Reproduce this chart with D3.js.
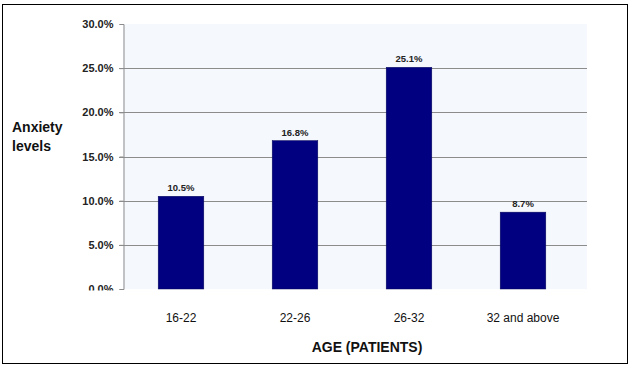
<!DOCTYPE html>
<html><head><meta charset="utf-8">
<script src="https://cdn.jsdelivr.net/npm/d3@7"></script>
<style>body{margin:0;background:#fff}svg{display:block}text{font-family:"Liberation Sans",Arial,sans-serif}</style>
</head><body>
<svg id="c" width="634" height="367"></svg>
<script>
const categories = ["16-22", "22-26", "26-32", "32 and above"];
const values = [10.5, 16.8, 25.1, 8.7];
const yTicks = [0, 5, 10, 15, 20, 25, 30];
const yTitle = ["Anxiety", "levels"];
const xTitle = "AGE (PATIENTS)";

const svg = d3.select("#c");
const m = {left: 123, right: 587, top: 24, bottom: 289};

svg.append("rect").attr("x", 2.5).attr("y", 4.5).attr("width", 625).attr("height", 359)
  .attr("fill", "#fff").attr("stroke", "#000").attr("stroke-width", 1);

const x = d3.scaleBand().domain(categories).range([124, 580]).paddingInner(0.6).paddingOuter(0.3);
const y = d3.scaleLinear().domain([0, 30]).range([m.bottom, m.top]);

svg.append("rect").attr("x", m.left).attr("y", m.top).attr("width", m.right - m.left)
  .attr("height", m.bottom - m.top).attr("fill", "#f5f8fd");

// gridlines
svg.append("g").selectAll("line").data(yTicks.filter(d => d > 0 && d < 30)).join("line")
  .attr("x1", m.left - 4).attr("x2", m.right)
  .attr("y1", d => Math.round(y(d)) + 0.5).attr("y2", d => Math.round(y(d)) + 0.5)
  .attr("stroke", "#8c8c8c").attr("stroke-width", 1);

// y axis
const yAxis = d3.axisLeft(y).tickValues(yTicks).tickFormat(d => d3.format(".1f")(d) + "%").tickSize(4).tickPadding(6);
const ga = svg.append("g").attr("transform", `translate(${m.left + 0.5},0)`).call(yAxis);
ga.select(".domain").attr("stroke", "#8c8c8c");
ga.selectAll(".tick line").attr("stroke", "#8c8c8c");
ga.selectAll(".tick text").attr("font-size", 11).attr("font-weight", "bold").attr("fill", "#222")
  .attr("font-family", "'Liberation Sans',Arial,sans-serif");

svg.append("clipPath").attr("id", "cl").append("rect").attr("x", -100).attr("y", -20).attr("width", 120).attr("height", 21);
ga.selectAll(".tick").filter(d => d === 0).select("text").attr("clip-path", "url(#cl)");

// bars
svg.append("g").selectAll("rect").data(values).join("rect")
  .attr("x", (d, i) => x(categories[i])).attr("width", x.bandwidth())
  .attr("y", d => y(d)).attr("height", d => y(0) - y(d))
  .attr("fill", "#000080").attr("stroke", "#0a0a5a").attr("stroke-width", 0.5);

// value labels
svg.append("g").selectAll("text").data(values).join("text")
  .attr("x", (d, i) => x(categories[i]) + x.bandwidth() / 2).attr("y", d => y(d) - 5)
  .attr("text-anchor", "middle").attr("font-size", 9.5).attr("font-weight", "bold").attr("fill", "#222")
  .text(d => d3.format(".1f")(d) + "%");

// category labels
svg.append("g").selectAll("text").data(categories).join("text")
  .attr("x", d => x(d) + x.bandwidth() / 2).attr("y", 322)
  .attr("text-anchor", "middle").attr("font-size", 12).attr("fill", "#111").text(d => d);

// axis titles
svg.append("text").attr("x", 367).attr("y", 352).attr("text-anchor", "middle")
  .attr("font-size", 14).attr("font-weight", "bold").attr("fill", "#111").text(xTitle);
svg.append("g").selectAll("text").data(yTitle).join("text")
  .attr("x", 12).attr("y", (d, i) => 132 + i * 19)
  .attr("font-size", 14).attr("font-weight", "bold").attr("fill", "#111").text(d => d);
</script>
</body></html>
